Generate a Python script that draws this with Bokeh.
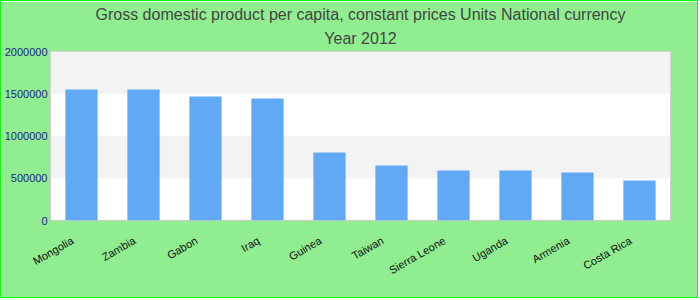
import math
from bokeh.plotting import figure
from bokeh.models import FixedTicker, Range1d, ColumnDataSource, Title, LinearAxis
from bokeh.embed import file_html
from bokeh.resources import INLINE

countries = ["Mongolia", "Zambia", "Gabon", "Iraq", "Guinea", "Taiwan",
             "Sierra Leone", "Uganda", "Armenia", "Costa Rica"]
gdp = [1550000, 1550000, 1467000, 1444000, 805000, 651000,
       592000, 592000, 568000, 473000]
y_ticks = [0, 500000, 1000000, 1500000, 2000000]
title_main = "Gross domestic product per capita, constant prices Units National currency"
title_sub = "Year 2012"

n = len(countries)
pos = [i + 0.5 for i in range(n)]
src = ColumnDataSource(dict(pos=pos, country=countries, gdp=gdp))

p = figure(x_range=Range1d(0, n), y_range=Range1d(0, 2000000),
           width=698, height=298, output_backend="svg", toolbar_location=None,
           title=None,
           min_border_left=49, min_border_right=29, min_border_bottom=79, min_border_top=50)
p.styles = {"border": "1px solid #00ff00"}
p.border_fill_color = "#90ee90"
p.background_fill_color = "white"
p.outline_line_color = "#cccccc"
p.outline_line_width = 1

for txt, so in [(title_sub, 9), (title_main, 2)]:
    p.add_layout(Title(text=txt, align="center", text_font="Liberation Sans",
                       text_font_size="16px", text_font_style="normal",
                       text_color="#444444", standoff=so), "above")

p.vbar(x="pos", top="gdp", width=0.52, source=src, color="#62a9f5", line_color=None)

p.yaxis.ticker = FixedTicker(ticks=y_ticks)
p.yaxis.formatter.use_scientific = False
p.yaxis.major_tick_line_color = None
p.yaxis.minor_tick_line_color = None
p.yaxis.axis_line_color = None
p.yaxis.major_label_text_color = "#1c1c8c"
p.yaxis.major_label_text_font = "Liberation Sans"
p.yaxis.major_label_text_font_size = "11px"
p.yaxis.major_label_standoff = 3
p.yaxis.major_tick_out = 0
p.yaxis.major_tick_in = 0

p.xaxis.visible = False

# slightly shifted axis carrying the rotated country labels
shift = 0.145
p.extra_x_ranges = {"lab": Range1d(shift, n + shift)}
lab_axis = LinearAxis(x_range_name="lab",
                      ticker=FixedTicker(ticks=pos),
                      major_label_overrides={x: c for x, c in zip(pos, countries)})
lab_axis.major_label_orientation = math.pi / 6
lab_axis.major_label_text_font = "Liberation Sans"
lab_axis.major_label_text_font_size = "11px"
lab_axis.major_label_text_color = "#111111"
lab_axis.major_label_standoff = 19
lab_axis.major_tick_line_color = None
lab_axis.minor_tick_line_color = None
lab_axis.axis_line_color = None
lab_axis.major_tick_out = 0
lab_axis.major_tick_in = 0
p.add_layout(lab_axis, "below")

p.xgrid.grid_line_color = None
p.ygrid.grid_line_color = None
p.ygrid.ticker = FixedTicker(ticks=y_ticks)
p.ygrid.band_fill_color = "#f3f3f3"
p.ygrid.band_fill_alpha = 1

open("out.html", "w").write(file_html(p, INLINE))
